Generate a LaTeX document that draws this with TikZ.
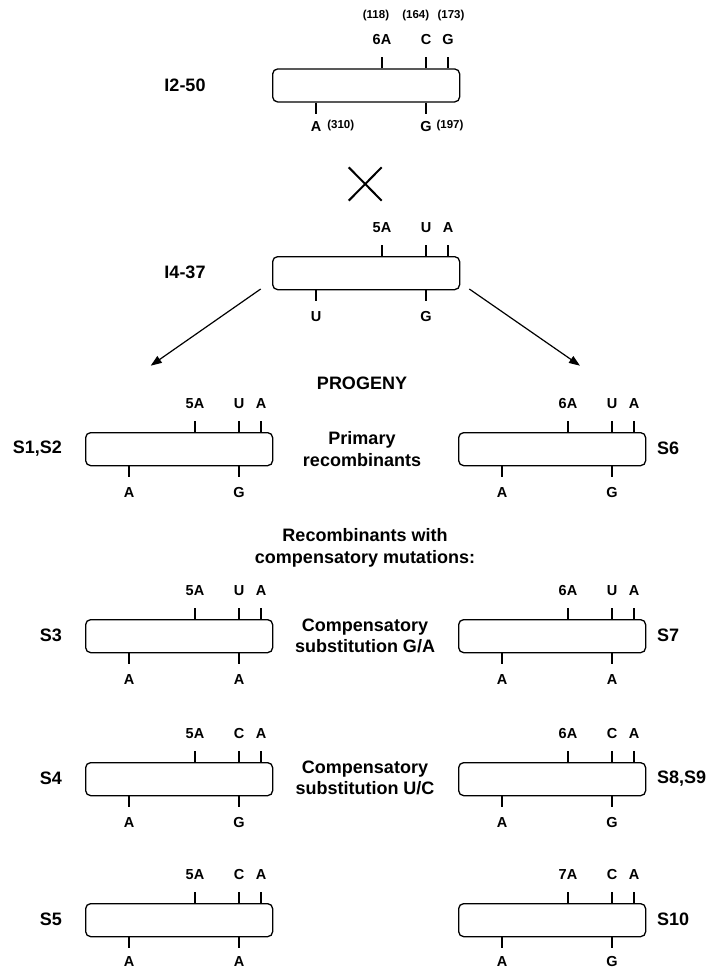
\documentclass[tikz,border=0pt]{standalone}
\usepackage{fontspec}
\setmainfont{Liberation Sans}
\usetikzlibrary{arrows.meta,calc}
\newcommand{\chrom}[9][-26pt]{%
  \node[seg] (#2) at (#3,#4) {};
  \draw[tickline] ([xshift=110pt]#2.north west) -- ++(0,-11);
  \draw[tickline] ([xshift=154pt]#2.north west) -- ++(0,-11);
  \draw[tickline] ([xshift=176pt]#2.north west) -- ++(0,-11);
  \draw[tickline] ([xshift=44pt]#2.south west) -- ++(0,11);
  \draw[tickline] ([xshift=154pt]#2.south west) -- ++(0,11);
  \node[lab] (#2-ta) at ([xshift=110pt,yshift=28.5pt]#2.north west) {#5};
  \node[lab] (#2-tb) at ([xshift=154pt,yshift=28.5pt]#2.north west) {#6};
  \node[lab] (#2-tc) at ([xshift=176pt,yshift=28.5pt]#2.north west) {#7};
  \node[lab] (#2-ba) at ([xshift=44pt,yshift=#1]#2.south west) {#8};
  \node[lab] (#2-bb) at ([xshift=154pt,yshift=#1]#2.south west) {#9};
}
\begin{document}
\begin{tikzpicture}[x=1pt,y=-1pt,
  seg/.style={draw, rounded corners=5pt, minimum width=187pt, minimum height=33pt,
              inner sep=0pt, line width=1.3pt, anchor=north west},
  tickline/.style={line width=1.3pt},
  lab/.style={font=\fontsize{14.5}{16}\selectfont\bfseries, inner sep=0pt},
  num/.style={font=\fontsize{11.5}{13}\selectfont\bfseries, inner sep=0pt},
  strain/.style={font=\fontsize{18}{20}\selectfont\bfseries, inner sep=0pt},
  ctext/.style={font=\fontsize{18}{21.5}\selectfont\bfseries, align=center, inner sep=0pt},
  arr/.style={line width=1.2pt, -{Triangle[length=11pt,width=8pt]}},
]
\useasboundingbox (0,0) rectangle (706,968);

% parents
\chrom[-24pt]{p1}{272}{68.3}{6A}{C}{G}{A}{G}
\node[strain] (p1name) at (185,85) {I2-50};
\node[num] (n118) at (376,16) {(118)};
\node[num] (n164) at (415.7,16) {(164)};
\node[num] (n173) at (451,16) {(173)};
\node[num] (n310) at (340.8,126) {(310)};
\node[num] (n197) at (450,126) {(197)};

\draw[line width=2pt] (348.7,167.3) -- (381.7,200.7);
\draw[line width=2pt] (381.7,167.3) -- (348.7,200.7);

\chrom{p2}{272}{256}{5A}{U}{A}{U}{G}
\node[strain] (p2name) at (185,272.5) {I4-37};

\coordinate (als) at (260.7,289);
\coordinate (ale) at (150.7,365.7);
\coordinate (ars) at (469.3,289);
\coordinate (are) at (580,365.7);
\draw[arr] (als) -- (ale);
\draw[arr] (ars) -- (are);

\node[ctext] (prog) at (362,383) {PROGENY};

% row 1
\chrom{s1}{85}{432}{5A}{U}{A}{A}{G}
\chrom{s6}{458}{432}{6A}{U}{A}{A}{G}
\node[strain, anchor=east] (s1name) at (62,448.5) {S1,S2};
\node[strain, anchor=west] (s6name) at (657,448.5) {S6};
\node[ctext] (prim) at (362,449) {Primary\\recombinants};

\node[ctext] (rcm) at (365,548) {Recombinants with\\compensatory mutations:};

% row 2
\chrom{s3}{85}{619}{5A}{U}{A}{A}{A}
\chrom{s7}{458}{619}{6A}{U}{A}{A}{A}
\node[strain, anchor=east] (s3name) at (62,635.5) {S3};
\node[strain, anchor=west] (s7name) at (657,635.5) {S7};
\node[ctext] (cga) at (365,636) {Compensatory\\substitution G/A};

% row 3
\chrom{s4}{85}{762}{5A}{C}{A}{A}{G}
\chrom{s8}{458}{762}{6A}{C}{A}{A}{G}
\node[strain, anchor=east] (s4name) at (62,778.5) {S4};
\node[strain, anchor=west] (s8name) at (657,778.5) {S8,S9};
\node[ctext] (cuc) at (365,778) {Compensatory\\substitution U/C};

% row 4
\chrom[-24pt]{s5}{85}{903}{5A}{C}{A}{A}{A}
\chrom[-24pt]{s10}{458}{903}{7A}{C}{A}{A}{G}
\node[strain, anchor=east] (s5name) at (62,919.5) {S5};
\node[strain, anchor=west] (s10name) at (657,919.5) {S10};
\end{tikzpicture}
\end{document}
